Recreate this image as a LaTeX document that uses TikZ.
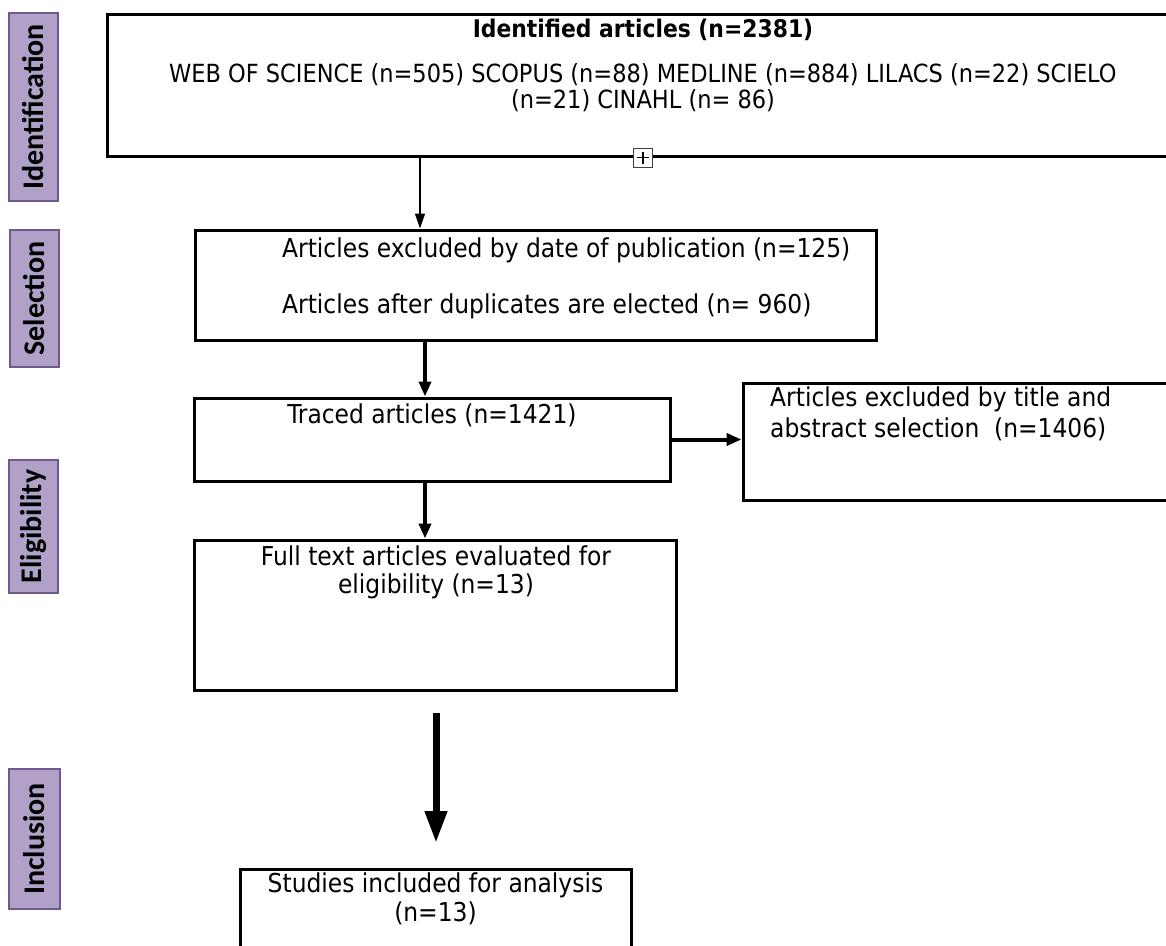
\documentclass[tikz,border=0pt]{standalone}
\usepackage{fontspec}
\setmainfont{DejaVu Sans Condensed}
\newfontfamily\phasefont{Carlito}
\usetikzlibrary{arrows.meta}
\definecolor{phasefill}{HTML}{B1A0C7}
\definecolor{phaseline}{HTML}{6E5A8C}

\begin{document}
\begin{tikzpicture}[x=1pt, y=-1pt,
    box/.style={draw, line width=3pt, rectangle, inner sep=0pt},
    phase/.style={draw=phaseline, fill=phasefill, line width=1.5pt, inner sep=0pt, rotate=90,
      minimum height=49pt, font=\phasefont\bfseries\fontsize{30}{32}\selectfont},
    txt/.style={inner sep=0pt, font=\fontsize{26}{28}\selectfont},
    thinarrow/.style={line width=1.5pt, -{Triangle[length=15pt,width=10pt]}},
    thickarrow/.style={line width=4pt, -{Triangle[length=15pt,width=12pt]}},
    bigarrow/.style={line width=7pt, -{Triangle[length=32pt,width=21pt]}},
  ]
    \useasboundingbox (0,0) rectangle (1166,945);
    \clip (0,0) rectangle (1166,945);
    \fill[white] (0,0) rectangle (1166,945);

    % 段階ラベル
    \node[phase, minimum width=188pt] (identphase) at (33.5,107) {Identification};
    \node[phase, minimum width=137pt] (selphase) at (34.5,298.5) {Selection};
    \node[phase, minimum width=133pt] (eligphase) at (33.5,526.5) {Eligibility};
    \node[phase, minimum width=140pt, minimum height=51pt] (inclphase) at (34.5,839) {Inclusion};

    % ボックスの定義
    \node[box, minimum width=1072pt, minimum height=142pt] (ident) at (643,85) {};
    \node[box, minimum width=681pt, minimum height=110pt] (sel) at (535.5,285) {};
    \node[box, minimum width=476pt, minimum height=83pt] (traced) at (432,439.5) {};
    \node[box, minimum width=442pt, minimum height=117pt] (excl) at (964,441.5) {};
    \node[box, minimum width=482pt, minimum height=150pt] (full) at (435,615) {};
    \node[box, minimum width=391pt, minimum height=111pt] (studies) at (435.5,924.5) {};

    % ボックスの文字
    \node[txt, anchor=base, font=\bfseries\fontsize{24.3}{28}\selectfont] (identtitle) at (643,37)
      {Identified articles (n=2381)};
    \node[txt, anchor=north, align=center, font=\fontsize{25}{26}\selectfont] (identtext) at (643,63)
      {WEB OF SCIENCE (n=505) SCOPUS (n=88) MEDLINE (n=884) LILACS (n=22) SCIELO\\(n=21) CINAHL (n= 86)};
    \node[txt, anchor=north west, align=left] (seltext) at (282,238)
      {Articles excluded by date of publication (n=125)\\[28pt]Articles after duplicates are elected (n= 960)};
    \node[txt, anchor=base] (tracedtext) at (432,423) {Traced articles (n=1421)};
    \node[txt, anchor=north west, align=left, font=\fontsize{26}{31}\selectfont] (excltext) at (770,387)
      {Articles excluded by title and\\abstract selection~~(n=1406)};
    \node[txt, anchor=north, align=center] (fulltext) at (436,546)
      {Full text articles evaluated for\\eligibility (n=13)};
    \node[txt, anchor=north, align=center, font=\fontsize{26}{29}\selectfont] (studiestext) at (435.5,873)
      {Studies included for analysis\\(n=13)};

    % 折りたたみボタン
    \node[draw=black!75, fill=white, line width=1pt, minimum size=19pt, inner sep=0pt] (toggle) at (ident.south) {};
    \draw[line width=1.3pt] ([xshift=-6pt]toggle.center) -- ([xshift=6pt]toggle.center);
    \draw[line width=1.3pt] ([yshift=-6pt]toggle.center) -- ([yshift=6pt]toggle.center);

    % 矢印を描く
    \draw[thinarrow] ([xshift=-223pt]ident.south) -- ([xshift=-223pt]ident.south |- sel.north);
    \draw[thickarrow] ([xshift=-7pt]traced.north |- sel.south) -- ([xshift=-7pt]traced.north);
    \draw[thickarrow] ([xshift=-7pt]traced.south) -- ([xshift=-7pt]traced.south |- full.north);
    \draw[thickarrow] (traced.east) -- (traced.east -| excl.west);
    \coordinate (gapstart) at (436,713);
    \coordinate (gapend) at (436,843);
    \draw[bigarrow] (gapstart) -- (gapend);

  \end{tikzpicture}
\end{document}
